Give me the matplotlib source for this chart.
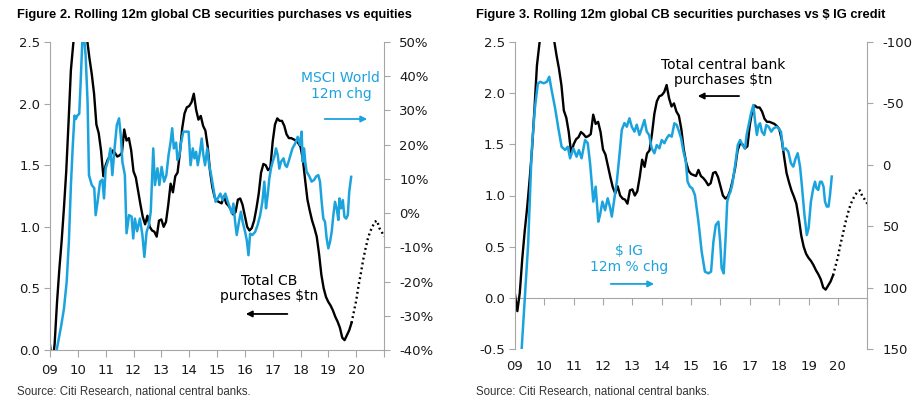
import numpy as np
import matplotlib
matplotlib.use("Agg")
import matplotlib.pyplot as plt

# ---------------- data ----------------
# Total CB purchases, $tn, monthly from Jan 2009
cb_start = 2009.0
cb_solid = [0.04, -0.13, 0.05, 0.38, 0.65, 0.88, 1.15, 1.45, 1.85, 2.27, 2.48, 2.65,
            2.75, 2.80, 2.75, 2.62, 2.52, 2.37, 2.24, 2.08, 1.83, 1.76, 1.62, 1.41,
            1.50, 1.55, 1.57, 1.62, 1.60, 1.57, 1.58, 1.60, 1.79, 1.70, 1.72, 1.62,
            1.45, 1.40, 1.29, 1.18, 1.08, 1.02, 1.09, 1.00, 0.97, 0.96, 0.92, 1.05,
            1.06, 1.00, 1.04, 1.18, 1.35, 1.28, 1.41, 1.44, 1.60, 1.80, 1.92, 1.97,
            1.98, 2.01, 2.08, 1.95, 1.87, 1.90, 1.82, 1.78, 1.65, 1.45, 1.32, 1.24,
            1.21, 1.20, 1.19, 1.25, 1.19, 1.17, 1.14, 1.10, 1.12, 1.22, 1.23, 1.18,
            1.09, 1.00, 0.97, 0.99, 1.05, 1.15, 1.27, 1.44, 1.51, 1.50, 1.46, 1.48,
            1.69, 1.83, 1.88, 1.86, 1.86, 1.82, 1.75, 1.72, 1.72, 1.71, 1.70, 1.68,
            1.65, 1.55, 1.38, 1.22, 1.13, 1.05, 0.99, 0.92, 0.78, 0.61, 0.50, 0.43,
            0.39, 0.36, 0.32, 0.27, 0.23, 0.18, 0.10, 0.08, 0.12, 0.16, 0.22]
# projection (dotted), continues from last solid month
cb_proj = [0.22, 0.31, 0.40, 0.52, 0.62, 0.73, 0.82, 0.90, 0.96, 1.00, 1.04, 1.05,
           0.99, 0.96, 0.92]

# MSCI World 12m change, %
msci_t = [2009.15, 2009.24, 2009.40, 2009.50, 2009.60, 2009.68, 2009.75, 2009.82, 2009.88, 2009.93,
          2009.98, 2010.05, 2010.10, 2010.16, 2010.23, 2010.28, 2010.35, 2010.40, 2010.50, 2010.59,
          2010.64, 2010.71, 2010.80, 2010.88, 2010.94, 2011.00, 2011.10, 2011.17, 2011.24, 2011.31,
          2011.40, 2011.48, 2011.55, 2011.60, 2011.69, 2011.75, 2011.84, 2011.93, 2011.99, 2012.05,
          2012.13, 2012.23, 2012.32, 2012.39, 2012.47, 2012.55, 2012.62, 2012.71, 2012.77, 2012.86,
          2012.93, 2013.01, 2013.10, 2013.18, 2013.26, 2013.33, 2013.39, 2013.45, 2013.53, 2013.58,
          2013.65, 2013.71, 2013.79, 2013.91, 2013.98, 2014.05, 2014.13, 2014.19, 2014.25, 2014.31,
          2014.39, 2014.45, 2014.51, 2014.57, 2014.65, 2014.72, 2014.79, 2014.87, 2014.95, 2015.03,
          2015.12, 2015.20, 2015.30, 2015.39, 2015.47, 2015.53, 2015.59, 2015.65, 2015.71, 2015.79,
          2015.86, 2015.92, 2016.01, 2016.07, 2016.13, 2016.19, 2016.27, 2016.37, 2016.46, 2016.55,
          2016.63, 2016.70, 2016.76, 2016.82, 2016.88, 2016.94, 2017.00, 2017.06, 2017.12, 2017.18,
          2017.24, 2017.30, 2017.39, 2017.45, 2017.51, 2017.57, 2017.64, 2017.71, 2017.78, 2017.84,
          2017.90, 2017.98, 2018.04, 2018.08, 2018.13, 2018.17, 2018.22, 2018.32, 2018.40, 2018.49,
          2018.56, 2018.64, 2018.70, 2018.76, 2018.82, 2018.88, 2018.94, 2019.00, 2019.06, 2019.12,
          2019.18, 2019.24, 2019.30, 2019.36, 2019.40, 2019.46, 2019.52, 2019.58, 2019.64, 2019.70,
          2019.75, 2019.82]
msci_chg = [-48, -40, -33, -28, -20, -8, 8, 20, 28.5, 27.5,
            28.5, 29, 38, 50, 51, 46, 32.5, 11.1, 8.2, 7.3,
            -0.6, 3.3, 9.2, 9.8, 4.3, 13.1, 15.6, 18.9, 11.1, 18.0,
            25.7, 27.7, 22.0, 15.0, 11.1, -5.9, -0.6, -1.0, -7.4, -1.6,
            -5.3, -1.6, -6.4, -12.8, -5.5, -3.5, 0.4, 18.9, 8.2, 13.1,
            8.2, 13.5, 9.2, 11.1, 17.0, 20.6, 24.8, 18.9, 20.6, 15.5,
            17.0, 20.6, 23.8, 23.8, 23.8, 14.0, 18.9, 16.0, 17.9, 14.0,
            17.9, 21.8, 17.0, 14.0, 18.9, 14.0, 11.1, 7.2, 3.3, 4.3,
            5.7, 3.8, 5.7, 3.3, 1.4, -0.1, 2.8, -2.5, -6.4, -2.5,
            0.4, -2.5, -5.5, -7.9, -12.3, -6.0, -6.4, -5.5, -3.5, -0.6,
            3.3, 9.2, 1.4, 5.2, 10.1, 13.1, 15.0, 16.5, 18.9, 17.0,
            13.0, 15.0, 16.0, 14.0, 13.5, 15.0, 17.0, 18.9, 19.9, 20.9,
            22.3, 19.9, 23.8, 15.0, 18.9, 15.0, 12.1, 10.7, 9.2, 9.7,
            10.7, 11.1, 9.2, 3.3, -1.6, -2.5, -7.4, -10.3, -8.4, -5.5,
            -0.6, 3.3, 1.4, -2.0, 4.3, 1.4, 3.8, -1.1, -1.6, -0.6,
            6.2, 10.6]

# $ IG 12m % change (inverted right axis)
ig_t = [2009.17, 2009.23, 2009.45, 2009.57, 2009.68, 2009.78, 2009.86, 2009.98, 2010.09, 2010.17,
        2010.25, 2010.37, 2010.48, 2010.59, 2010.71, 2010.80, 2010.88, 2010.99, 2011.10, 2011.18,
        2011.27, 2011.39, 2011.48, 2011.56, 2011.67, 2011.75, 2011.84, 2011.90, 2011.98, 2012.07,
        2012.16, 2012.24, 2012.30, 2012.39, 2012.47, 2012.55, 2012.64, 2012.73, 2012.81, 2012.90,
        2012.98, 2013.07, 2013.15, 2013.24, 2013.32, 2013.41, 2013.49, 2013.57, 2013.66, 2013.75,
        2013.83, 2013.92, 2014.00, 2014.09, 2014.17, 2014.25, 2014.34, 2014.43, 2014.51, 2014.59,
        2014.66, 2014.74, 2014.82, 2014.88, 2014.96, 2015.04, 2015.13, 2015.25, 2015.36, 2015.47,
        2015.59, 2015.68, 2015.76, 2015.84, 2015.93, 2015.99, 2016.04, 2016.11, 2016.18, 2016.23,
        2016.29, 2016.34, 2016.40, 2016.50, 2016.59, 2016.67, 2016.75, 2016.84, 2016.89, 2016.98,
        2017.04, 2017.12, 2017.18, 2017.24, 2017.30, 2017.35, 2017.41, 2017.49, 2017.56, 2017.64,
        2017.73, 2017.81, 2017.92, 2017.97, 2018.06, 2018.14, 2018.22, 2018.31, 2018.40, 2018.48,
        2018.56, 2018.63, 2018.71, 2018.77, 2018.86, 2018.94, 2019.00, 2019.08, 2019.16, 2019.22,
        2019.27, 2019.33, 2019.39, 2019.45, 2019.51, 2019.56, 2019.62, 2019.68, 2019.73, 2019.79]
ig_chg = [175, 150, 65, -11, -46, -66, -67.6, -66.4, -67.6, -71.7,
          -60.9, -46, -29.7, -14.7, -12.1, -14.7, -5.3, -13.5, -6.6, -12,
          -5.3, -20.2, -17.6, -1.2, 30, 17.8, 46.3, 40.8, 30, 37,
          27.3, 34.6, 42.2, 27.3, 13.8, -5.3, -28.4, -34, -31, -37.9,
          -31, -27, -32.7, -24.3, -29.7, -36.5, -27, -24.3, -13.4, -9.4,
          -16.1, -13.4, -20.2, -17.6, -21.6, -24.3, -22.9, -33.8, -32.5, -27,
          -21.6, -10.7, -2.6, 13.8, 17.8, 19.2, 24.6, 46.3, 70.8, 87,
          88.4, 87, 62.6, 49, 46.3, 62.6, 84.3, 88.4, 57.2, 30,
          24.6, 22, 16.4, 0.2, -16.1, -20.2, -16.1, -13.4, -24.3, -35.1,
          -41.9, -48.7, -35.1, -24.3, -32.4, -33.8, -27, -24.3, -32.4, -31,
          -27, -29.7, -31, -29.7, -27, -12.1, -13.4, -10.7, -1.2, 1.5,
          -5.3, -9.4, 1.5, 16.4, 40.8, 57.2, 51.7, 30, 19.1, 13.8,
          19.1, 20.5, 13.8, 13.8, 17.8, 30, 34, 34, 24.6, 9.6]

years = list(range(2009, 2022))
year_labels = ["09", "10", "11", "12", "13", "14", "15", "16", "17", "18", "19", "20", ""]
left_ticks_fig2 = [0.0, 0.5, 1.0, 1.5, 2.0, 2.5]
right_ticks_fig2 = [-40, -30, -20, -10, 0, 10, 20, 30, 40, 50]
left_ticks_fig3 = [-0.5, 0.0, 0.5, 1.0, 1.5, 2.0, 2.5]
right_ticks_fig3 = [-100, -50, 0, 50, 100, 150]

# ---------------- style ----------------
BLACK = "#000000"
BLUE = "#1ba3de"
GREY = "#a6a6a6"
TXT = "#1a1a1a"
plt.rcParams["font.family"] = ["DejaVu Sans"]
TITLE_FONT = ["Liberation Sans", "DejaVu Sans"]

cb_t = cb_start + np.arange(len(cb_solid)) / 12.0
cb_pt = cb_t[-1] + np.arange(len(cb_proj)) / 12.0

fig = plt.figure(figsize=(9.19, 3.99), dpi=100)
W, H = 919.0, 399.0


def style_axes(ax, axr):
    for s in ["top", "right"]:
        ax.spines[s].set_visible(False)
    for s in ["top", "left", "bottom"]:
        axr.spines[s].set_visible(False)
    for s in ["left", "bottom"]:
        ax.spines[s].set_color(GREY)
    axr.spines["right"].set_color(GREY)
    ax.tick_params(axis="y", direction="out", length=4, color=GREY, labelsize=9.5,
                   labelcolor=TXT, pad=3)
    axr.tick_params(axis="y", direction="out", length=4, color=GREY, labelsize=9.5,
                    labelcolor=TXT, pad=7)
    ax.tick_params(axis="x", direction="out", length=5, color=GREY, labelsize=9.5,
                   labelcolor=TXT, pad=5)
    ax.set_xlim(2009, 2021)
    ax.set_xticks(years)
    ax.set_xticklabels(year_labels)


# ---------------- Figure 2 ----------------
ax1 = fig.add_axes([50 / W, 1 - 350 / H, 334 / W, 308 / H])
ax1r = ax1.twinx()
ax1.plot(cb_t, cb_solid, color=BLACK, lw=1.7)
ax1.plot(cb_pt, cb_proj, color=BLACK, lw=1.7, linestyle=(0, (0.8, 1.3)))
ax1r.plot(msci_t, msci_chg, color=BLUE, lw=1.8)
ax1.set_ylim(0, 2.5)
ax1.set_yticks(left_ticks_fig2)
ax1.set_yticklabels([f"{v:.1f}" for v in left_ticks_fig2])
ax1r.set_ylim(-40, 50)
ax1r.set_yticks(right_ticks_fig2)
ax1r.set_yticklabels([f"{v}%" for v in right_ticks_fig2])
style_axes(ax1, ax1r)

ax1r.text(0.871, 0.857, "MSCI World\n12m chg", transform=ax1r.transAxes, color=BLUE,
          fontsize=10, ha="center", va="center", linespacing=1.1)
ax1r.annotate("", xy=(0.958, 0.75), xytext=(0.814, 0.75), xycoords="axes fraction",
              arrowprops=dict(arrowstyle="-|>", color=BLUE, lw=1.3, mutation_scale=9))
ax1r.text(0.656, 0.201, "Total CB\npurchases $tn", transform=ax1r.transAxes, color=BLACK,
          fontsize=10, ha="center", va="center", linespacing=1.1)
ax1r.annotate("", xy=(0.578, 0.117), xytext=(0.719, 0.117), xycoords="axes fraction",
              arrowprops=dict(arrowstyle="-|>", color=BLACK, lw=1.3, mutation_scale=9))

# ---------------- Figure 3 ----------------
ax2 = fig.add_axes([514.9 / W, 1 - 349 / H, 352.4 / W, 307 / H])
ax2r = ax2.twinx()
ax2.plot(cb_t, cb_solid, color=BLACK, lw=1.7)
ax2.plot(cb_pt, cb_proj, color=BLACK, lw=1.7, linestyle=(0, (0.8, 1.3)))
ax2r.plot(ig_t, ig_chg, color=BLUE, lw=1.8)
ax2.set_ylim(-0.5, 2.5)
ax2.set_yticks(left_ticks_fig3)
ax2.set_yticklabels([f"{v:.1f}" for v in left_ticks_fig3])
ax2r.set_ylim(150, -100)
ax2r.set_yticks(right_ticks_fig3)
ax2r.set_yticklabels([str(v) for v in right_ticks_fig3])
style_axes(ax2, ax2r)
ax2.spines["bottom"].set_visible(False)
ax2.tick_params(axis="x", length=0, pad=8)
# zero line carries the tick marks
zero = ax2.secondary_xaxis(0.5 / 3.0)
zero.set_xticks(years)
zero.set_xticklabels([])
zero.spines["bottom"].set_color(GREY)
zero.tick_params(axis="x", direction="out", length=5, color=GREY)

ax2r.text(0.5905, 0.902, "Total central bank\npurchases $tn", transform=ax2r.transAxes,
          color=BLACK, fontsize=10, ha="center", va="center", linespacing=1.1)
ax2r.annotate("", xy=(0.511, 0.824), xytext=(0.644, 0.824), xycoords="axes fraction",
              arrowprops=dict(arrowstyle="-|>", color=BLACK, lw=1.3, mutation_scale=9))
ax2r.text(0.324, 0.293, "$ IG\n12m % chg", transform=ax2r.transAxes, color=BLUE,
          fontsize=10, ha="center", va="center", linespacing=1.1)
ax2r.annotate("", xy=(0.403, 0.212), xytext=(0.264, 0.212), xycoords="axes fraction",
              arrowprops=dict(arrowstyle="-|>", color=BLUE, lw=1.3, mutation_scale=9))

# ---------------- titles and sources ----------------
fig.text(17 / W, 1 - 15 / H, "Figure 2. Rolling 12m global CB securities purchases vs equities",
         family=TITLE_FONT, weight="bold", fontsize=9.3, ha="left", va="center", color=BLACK)
fig.text(476 / W, 1 - 15 / H, "Figure 3. Rolling 12m global CB securities purchases vs $ IG credit",
         family=TITLE_FONT, weight="bold", fontsize=9.3, ha="left", va="center", color=BLACK)
fig.text(17 / W, 1 - 391 / H, "Source: Citi Research, national central banks.",
         family=TITLE_FONT, fontsize=8.3, ha="left", va="center", color="#333333")
fig.text(476 / W, 1 - 391 / H, "Source: Citi Research, national central banks.",
         family=TITLE_FONT, fontsize=8.3, ha="left", va="center", color="#333333")

fig.savefig("out.png", dpi=100)
